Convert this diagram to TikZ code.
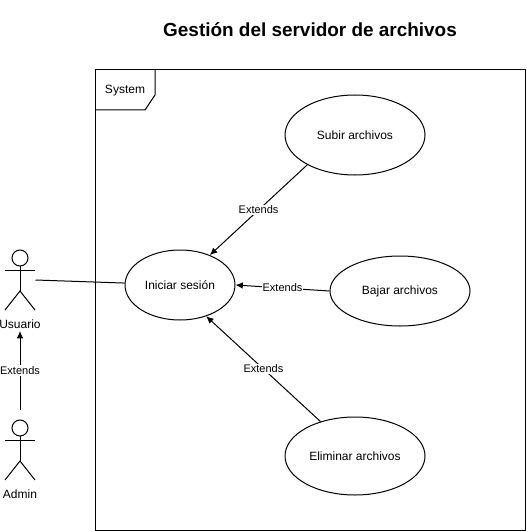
\documentclass[tikz,border=0pt]{standalone}
\usepackage{fontspec}
\setmainfont{Liberation Sans}
\usepackage{xcolor}
\usetikzlibrary{arrows.meta}
\usetikzlibrary{shapes.geometric}
\tikzset{
  usecase/.style={draw,ellipse,inner sep=0pt,font=\fontsize{9}{11}\selectfont},
  plain/.style={inner sep=0pt,font=\fontsize{9}{11}\selectfont},
  extends/.style={fill=white,inner xsep=0.5pt,inner ysep=1pt,font=\fontsize{8.25}{10}\selectfont},
  actorbox/.style={inner sep=0pt,minimum width=22.5pt,minimum height=45pt},
  stickman/.pic={
    \draw (0,-22) circle (8);
    \draw (0,-14) -- (0,11);
    \draw (-15,-10) -- (15,-10);
    \draw (-15,30) -- (0,11) -- (15,30);
  }
}
\begin{document}
\begin{tikzpicture}[x=0.75pt,y=-0.75pt,line width=0.75pt,>={Latex[length=5.5pt,width=5pt]}]
  \useasboundingbox (0,0) rectangle (526,531);
  \node[inner sep=0pt,font=\bfseries\fontsize{14.2}{17}\selectfont] (title) at (310,30) {Gestión del servidor de archivos};
  \node[draw,inner sep=0pt,minimum width=322.5pt,minimum height=345pt] (frame) at (310.5,300) {};
  \draw (95.5,110) -- (145,110) -- (155,95) -- (155,70);
  \node[plain] (system) at (125,90.5) {System};
  \node[usecase,minimum width=82.5pt,minimum height=52.5pt] (iniciar) at (180,285) {Iniciar sesión};
  \node[usecase,minimum width=105pt,minimum height=60pt] (subir) at (355,135) {Subir archivos};
  \node[usecase,minimum width=105pt,minimum height=52.5pt] (bajar) at (400,291) {Bajar archivos};
  \node[usecase,minimum width=105pt,minimum height=58.5pt] (eliminar) at (355,456) {Eliminar archivos};
  \node[actorbox] (usuario) at (20,280) {};
  \pic at (usuario) {stickman};
  \node[plain] (usuariolabel) at (20,324) {Usuario};
  \node[actorbox] (admin) at (20,450) {};
  \pic at (admin) {stickman};
  \node[plain] (adminlabel) at (20,494) {Admin};
  \draw (usuario.east) -- (iniciar.178);
  \draw[->] (subir.212) -- node[extends]{Extends} (iniciar.45);
  \draw[->] (bajar.west) -- node[extends]{Extends} (iniciar.east);
  \draw[->] (eliminar.135) -- node[extends]{Extends} (iniciar.-50);
  \coordinate (adminfoot) at (20,410);
  \coordinate (usuariofoot) at (20,331);
  \draw[->] (adminfoot) -- node[extends]{Extends} (usuariofoot);
\end{tikzpicture}
\end{document}
